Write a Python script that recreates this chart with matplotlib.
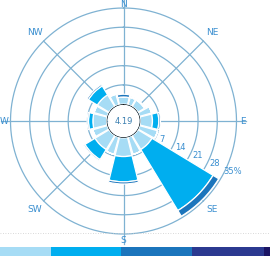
import numpy as np
import matplotlib
matplotlib.use("Agg")
import matplotlib.pyplot as plt
from matplotlib.patches import Rectangle

# ---- data ----
directions = ["N", "NNE", "NE", "ENE", "E", "ESE", "SE", "SSE",
              "S", "SSW", "SW", "WSW", "W", "WNW", "NW", "NNW"]
light  = [2.6, 2.8, 2.8, 4.5, 4.4, 6.8, 6.0, 6.5, 6.8, 6.5, 6.0, 5.5, 5.0, 5.0, 5.0, 4.0]
bright = [0.0, 0.0, 0.0, 0.0, 2.3, 0.0, 26.0, 0.0, 9.2, 0.0, 4.3, 0.0, 1.6, 0.0, 3.8, 0.0]
mid    = [1.0, 0.3, 0.3, 0.0, 0.6, 0.0, 2.4, 0.0, 0.8, 0.0, 0.5, 0.0, 0.5, 0.0, 0.6, 0.0]
calm = "4.19"
ring_values = [7, 14, 21, 28, 35]
ring_labels = ["7", "14", "21", "28", "35%"]
compass = ["N", "NE", "E", "SE", "S", "SW", "W", "NW"]
legend_colors = ["#a6dcf5", "#00aeef", "#1b75bc", "#2b3990", "#1b1464"]
legend_edges = [0, 51, 121, 192, 264, 270]

seg_colors = ["#a6dcf5", "#00aeef", "#1b75bc"]
grid_c = "#7fb2d2"
text_c = "#3a8fd0"

fig = plt.figure(figsize=(2.70, 2.56), dpi=100)
ax = fig.add_axes([10.5 / 270, 22 / 256, 226 / 270, 226 / 256], projection="polar")
ax.set_theta_zero_location("N")
ax.set_theta_direction(-1)
ax.set_ylim(0, 35)
ax.set_rorigin(-6.15)
ax.grid(False)
ax.set_xticks([])
ax.set_yticks([])
for s in ax.spines.values():
    s.set_visible(False)
ax.patch.set_alpha(0)

n = len(directions)
theta = np.deg2rad(np.arange(n) * 22.5)
# principal directions drawn wider than intermediate ones
width = np.deg2rad(np.where(np.arange(n) % 2 == 0, 27.5, 13.0))

# grid circles
tt = np.linspace(0, 2 * np.pi, 400)
for rv in [0] + ring_values:
    ax.plot(tt, np.full_like(tt, rv), color=grid_c, lw=0.9, zorder=1, clip_on=False)
# spokes
for i, name in enumerate(compass):
    ang = np.deg2rad(i * 45)
    rend = 38.5 if i % 2 == 0 else 35
    ax.plot([ang, ang], [0, rend], color=grid_c, lw=0.9, zorder=1, clip_on=False)

# stacked bars
bottom = np.zeros(n)
for vals, col in zip([light, bright, mid], seg_colors):
    v = np.array(vals)
    ax.bar(theta, v, width=width, bottom=bottom, color=col,
           edgecolor="white", linewidth=0.9, zorder=3)
    bottom = bottom + v

# ring labels
for rv, lab in zip(ring_values, ring_labels):
    ax.text(np.deg2rad(115), rv + 2.5, lab, color=text_c, fontsize=6,
            ha="center", va="center", zorder=5)

# compass labels
label_r = {"N": 36.4, "E": 37.2, "S": 37.2, "W": 37.4}
for i, name in enumerate(compass):
    ang = np.deg2rad(i * 45)
    r = label_r.get(name, 39.5)
    ax.text(ang, r, name, color=text_c, fontsize=6.5, ha="center", va="center",
            zorder=5, clip_on=False)

ax.text(0, -6.15, calm, color="#3a7fb0", fontsize=6, ha="center", va="center", zorder=5)

# dotted separator and legend strip
fig.add_artist(plt.Line2D([0, 1], [1 - 233 / 256] * 2, color="#cccccc", lw=0.6,
                          ls=(0, (1, 2)), transform=fig.transFigure))
for c, x0, x1 in zip(legend_colors, legend_edges[:-1], legend_edges[1:]):
    fig.add_artist(Rectangle((x0 / 270, 0), (x1 - x0) / 270, 9.5 / 256,
                             facecolor=c, edgecolor="none", transform=fig.transFigure))

fig.savefig("out.png", dpi=100)
